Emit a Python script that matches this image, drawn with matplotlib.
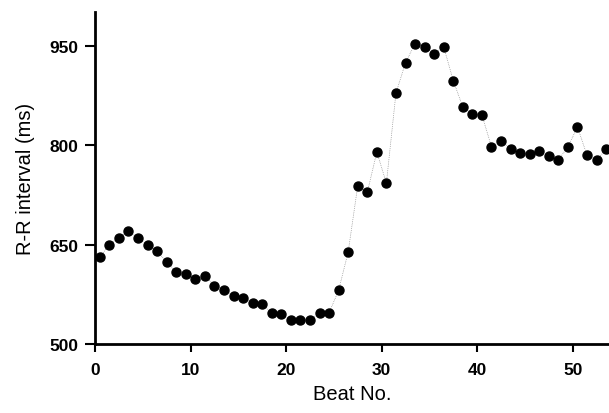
import numpy as np
import matplotlib
matplotlib.use("Agg")
import matplotlib.pyplot as plt

# R-R interval per beat
rr_ms = [631, 650, 660, 671, 660, 649, 640, 624, 609, 606,
         598, 603, 588, 582, 573, 569, 562, 560, 547, 545,
         536, 536, 536, 547, 547, 581, 639, 739, 729, 790,
         743, 879, 925, 954, 949, 939, 949, 898, 858, 848,
         846, 798, 807, 795, 788, 787, 791, 784, 778, 798,
         828, 785, 778, 794]
beat_no = np.arange(len(rr_ms)) + 0.5

x_ticks = [0, 10, 20, 30, 40, 50]
y_ticks = [500, 650, 800, 950]

plt.rcParams["font.family"] = ["Liberation Sans", "DejaVu Sans"]

fig = plt.figure(figsize=(6.09, 4.14), dpi=100)
ax = fig.add_axes([0.156, 0.167, 0.844, 0.802])

ax.plot(beat_no, rr_ms, color="#777777", lw=0.5, ls=":", zorder=1)
ax.plot(beat_no, rr_ms, "o", color="black", ms=6.5, zorder=2)

ax.set_xlim(0, 53.8)
ax.set_ylim(500, 1002)
ax.set_xticks(x_ticks)
ax.set_yticks(y_ticks)

for side in ("top", "right"):
    ax.spines[side].set_visible(False)
for side in ("left", "bottom"):
    ax.spines[side].set_linewidth(2)

ax.tick_params(axis="x", direction="out", length=6, width=1.5, pad=7, labelsize=12.5)
ax.tick_params(axis="y", direction="out", length=7, width=1.5, pad=5, labelsize=12.5)
for lab in ax.get_xticklabels() + ax.get_yticklabels():
    lab.set_fontweight("bold")

ax.set_xlabel("Beat No.", fontsize=14.5, labelpad=5)
ax.set_ylabel("R-R interval (ms)", fontsize=14.5, labelpad=10)

fig.savefig("out.png", dpi=100)
